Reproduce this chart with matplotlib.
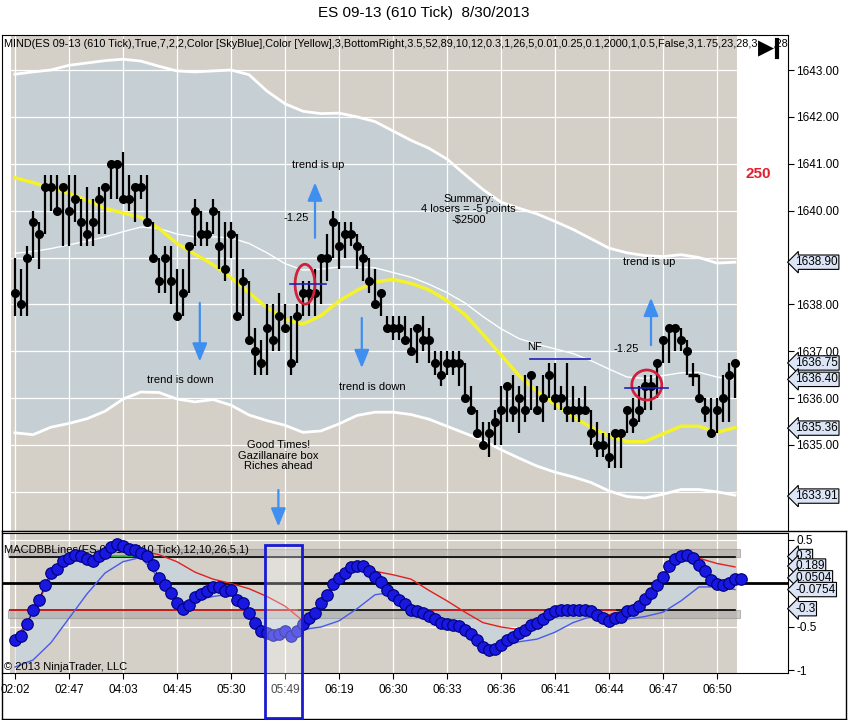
import numpy as np
import matplotlib.pyplot as plt
from matplotlib.patches import Ellipse, Rectangle
from matplotlib.lines import Line2D

plt.rcParams['font.family'] = ['Liberation Sans', 'DejaVu Sans']

# 610 tick bars: high / low / close
highs = [1639.0, 1638.75, 1639.25, 1640.0, 1639.75, 1640.75, 1640.75, 1640.75, 1640.5, 1640.75,
         1640.75, 1640.25, 1640.5, 1640.25, 1640.5, 1640.5, 1641.0, 1641.0, 1641.25, 1640.75,
         1640.5, 1640.75, 1640.75, 1639.75, 1639.0, 1639.25, 1639.25, 1638.75, 1638.75, 1639.25,
         1640.25, 1640.0, 1639.75, 1640.25, 1640.0, 1639.75, 1639.75, 1639.5, 1638.75, 1638.5,
         1637.5, 1637.25, 1638.0, 1638.0, 1638.25, 1638.0, 1637.75, 1638.0, 1638.5, 1638.5,
         1638.75, 1639.0, 1639.5, 1640.0, 1639.75, 1639.75, 1639.75, 1639.5, 1639.25, 1639.0,
         1638.75, 1638.25, 1637.75, 1637.75, 1637.75, 1637.75, 1637.5, 1637.5, 1637.75, 1637.5,
         1637.0, 1637.0, 1637.0, 1637.0, 1637.0, 1636.75, 1636.25, 1635.75, 1635.5, 1635.5,
         1635.75, 1636.25, 1636.25, 1636.5, 1636.25, 1636.5, 1636.5, 1636.25, 1636.5, 1636.75,
         1636.75, 1636.25, 1636.75, 1636.25, 1636.0, 1636.25, 1635.75, 1635.5, 1635.25, 1635.25,
         1635.25, 1635.25, 1635.75, 1636.0, 1636.25, 1636.5, 1636.5, 1636.75, 1637.25, 1637.5,
         1637.5, 1637.5, 1637.25, 1636.75, 1636.5, 1636.0, 1636.0, 1636.0, 1636.5, 1636.75,
         1636.75]
lows = [1637.75, 1637.75, 1637.75, 1639.0, 1638.75, 1639.5, 1640.0, 1640.0, 1639.25, 1639.25,
        1639.75, 1639.25, 1639.25, 1639.25, 1639.5, 1639.5, 1640.25, 1640.25, 1640.25, 1640.0,
        1639.75, 1640.25, 1639.75, 1639.0, 1638.25, 1638.25, 1638.0, 1637.75, 1637.75, 1638.25,
        1639.25, 1639.25, 1639.25, 1639.5, 1638.75, 1638.5, 1639.0, 1637.75, 1637.75, 1637.25,
        1636.5, 1636.5, 1636.5, 1637.0, 1637.0, 1637.5, 1636.5, 1636.75, 1637.75, 1637.75,
        1637.75, 1638.0, 1638.5, 1639.0, 1638.75, 1639.0, 1639.25, 1638.75, 1638.5, 1638.25,
        1638.0, 1637.75, 1637.5, 1637.25, 1637.25, 1637.25, 1637.0, 1636.75, 1637.0, 1636.75,
        1636.5, 1636.25, 1636.5, 1636.5, 1636.25, 1636.0, 1635.75, 1635.25, 1635.0, 1634.75,
        1635.0, 1635.0, 1635.5, 1635.5, 1635.25, 1635.5, 1635.75, 1635.75, 1635.5, 1636.0,
        1635.75, 1635.75, 1635.5, 1635.5, 1635.5, 1635.75, 1635.0, 1634.75, 1634.75, 1634.5,
        1634.5, 1634.5, 1635.25, 1635.25, 1635.5, 1635.75, 1635.75, 1636.0, 1636.75, 1636.75,
        1637.0, 1637.0, 1636.5, 1636.25, 1636.0, 1635.5, 1635.25, 1635.25, 1635.5, 1635.5,
        1636.0]
closes = [1638.25, 1638.0, 1639.0, 1639.75, 1639.5, 1640.5, 1640.5, 1640.0, 1640.5, 1640.0,
          1640.25, 1639.75, 1639.5, 1639.75, 1640.25, 1640.5, 1641.0, 1641.0, 1640.25, 1640.25,
          1640.5, 1640.5, 1639.75, 1639.0, 1638.5, 1639.0, 1638.5, 1637.75, 1638.25, 1639.25,
          1640.0, 1639.5, 1639.5, 1640.0, 1639.25, 1638.75, 1639.5, 1637.75, 1638.5, 1637.25,
          1637.0, 1636.75, 1637.5, 1637.25, 1637.75, 1637.5, 1636.75, 1637.75, 1638.25, 1638.25,
          1638.25, 1639.0, 1639.0, 1639.75, 1639.25, 1639.5, 1639.5, 1639.25, 1639.0, 1638.5,
          1638.0, 1638.25, 1637.5, 1637.5, 1637.5, 1637.25, 1637.0, 1637.5, 1637.25, 1637.25,
          1636.75, 1636.5, 1636.75, 1636.75, 1636.75, 1636.0, 1635.75, 1635.25, 1635.0, 1635.25,
          1635.5, 1635.75, 1636.25, 1635.75, 1636.0, 1635.75, 1636.5, 1635.75, 1636.0, 1636.5,
          1636.0, 1636.0, 1635.75, 1635.75, 1635.75, 1635.75, 1635.25, 1635.0, 1635.0, 1634.75,
          1635.25, 1635.25, 1635.75, 1635.5, 1635.75, 1636.25, 1636.25, 1636.75, 1637.25, 1637.5,
          1637.5, 1637.25, 1637.0, 1636.5, 1636.0, 1635.75, 1635.25, 1635.75, 1636.0, 1636.5,
          1636.75]
dash_bars = [113]

# indicator lines, sampled every 3 bars
step_x = np.arange(0, 121, 3)
yellow_ma = [1640.70, 1640.60, 1640.48, 1640.37, 1640.22, 1640.05, 1639.95, 1639.86, 1639.62, 1639.30,
             1639.07, 1638.85, 1638.57, 1638.25, 1637.93, 1637.68, 1637.58, 1637.76, 1638.07, 1638.30,
             1638.48, 1638.53, 1638.45, 1638.31, 1638.08, 1637.78, 1637.36, 1636.92, 1636.48, 1636.14,
             1635.87, 1635.60, 1635.38, 1635.19, 1635.07, 1635.07, 1635.24, 1635.40, 1635.40, 1635.27,
             1635.37]
white_ma = [1639.09, 1639.13, 1639.19, 1639.27, 1639.35, 1639.44, 1639.55, 1639.65, 1639.62, 1639.50,
            1639.44, 1639.44, 1639.42, 1639.30, 1639.10, 1638.87, 1638.73, 1638.75, 1638.80, 1638.80,
            1638.78, 1638.68, 1638.58, 1638.43, 1638.25, 1638.03, 1637.74, 1637.48, 1637.27, 1637.15,
            1637.05, 1636.95, 1636.80, 1636.62, 1636.45, 1636.42, 1636.48, 1636.54, 1636.55, 1636.45,
            1636.40]
band_upper = [1642.91, 1642.96, 1643.00, 1643.10, 1643.15, 1643.20, 1643.23, 1643.19, 1643.08, 1642.98,
              1642.96, 1642.98, 1643.00, 1642.90, 1642.55, 1642.28, 1642.12, 1642.07, 1642.08, 1642.00,
              1641.90, 1641.70, 1641.50, 1641.33, 1641.10, 1640.77, 1640.45, 1640.18, 1640.05, 1639.93,
              1639.77, 1639.60, 1639.40, 1639.20, 1639.10, 1639.04, 1639.02, 1639.06, 1639.00, 1638.88,
              1638.90]
band_lower = [1635.26, 1635.22, 1635.38, 1635.46, 1635.56, 1635.72, 1635.98, 1636.13, 1636.12, 1635.98,
              1635.92, 1635.97, 1635.85, 1635.64, 1635.52, 1635.42, 1635.27, 1635.30, 1635.45, 1635.63,
              1635.70, 1635.70, 1635.65, 1635.55, 1635.40, 1635.25, 1635.10, 1634.90, 1634.72, 1634.55,
              1634.42, 1634.32, 1634.20, 1634.02, 1633.90, 1633.87, 1633.95, 1634.05, 1634.05, 1634.00,
              1633.93]

# MACD dots, one per bar (plus the live bar)
macd = [-0.65, -0.60, -0.47, -0.31, -0.19, -0.02, 0.12, 0.17, 0.26, 0.29,
        0.33, 0.32, 0.28, 0.26, 0.31, 0.35, 0.42, 0.45, 0.43, 0.40,
        0.38, 0.35, 0.31, 0.21, 0.06, -0.02, -0.11, -0.22, -0.29, -0.25,
        -0.15, -0.12, -0.09, -0.04, -0.04, -0.09, -0.07, -0.19, -0.23, -0.34,
        -0.45, -0.55, -0.57, -0.59, -0.58, -0.55, -0.60, -0.55, -0.47, -0.40,
        -0.34, -0.23, -0.13, -0.01, 0.06, 0.12, 0.19, 0.20, 0.20, 0.14,
        0.08, 0.02, -0.07, -0.13, -0.19, -0.24, -0.30, -0.32, -0.34, -0.37,
        -0.41, -0.46, -0.47, -0.48, -0.49, -0.53, -0.58, -0.65, -0.73, -0.76,
        -0.75, -0.71, -0.65, -0.62, -0.57, -0.53, -0.48, -0.46, -0.41, -0.35,
        -0.32, -0.30, -0.30, -0.30, -0.30, -0.30, -0.32, -0.36, -0.40, -0.43,
        -0.40, -0.39, -0.32, -0.30, -0.26, -0.18, -0.11, -0.02, 0.08, 0.20,
        0.28, 0.32, 0.33, 0.29, 0.21, 0.14, 0.04, -0.01, -0.02, 0.01,
        0.05, 0.05]
macd_red = [-0.66, -0.33, 0.08, 0.26, 0.30, 0.34, 0.40, 0.38, 0.33, 0.25,
            0.13, 0.05, 0.00, -0.06, -0.15, -0.26, -0.43, -0.24, 0.04, 0.20,
            0.14, 0.10, 0.05, -0.08, -0.20, -0.33, -0.45, -0.50, -0.53, -0.46,
            -0.32, -0.30, -0.31, -0.36, -0.30, -0.19, 0.05, 0.32, 0.29, 0.23,
            0.19]
macd_blue = [-0.96, -0.88, -0.68, -0.40, -0.12, 0.12, 0.25, 0.30, 0.06, -0.22,
             -0.20, -0.15, -0.12, -0.33, -0.55, -0.58, -0.53, -0.50, -0.43, -0.29,
             -0.13, -0.10, -0.29, -0.38, -0.47, -0.54, -0.71, -0.73, -0.67, -0.64,
             -0.56, -0.45, -0.38, -0.39, -0.41, -0.38, -0.33, -0.20, -0.04, -0.04,
             -0.07]

time_labels = ['02:02', '02:47', '04:03', '04:45', '05:30', '05:49', '06:19',
               '06:30', '06:33', '06:36', '06:41', '06:44', '06:47', '06:50']
time_ticks = np.arange(0, 9 * len(time_labels), 9)

price_ticks = [1635, 1636, 1637, 1638, 1640, 1641, 1642, 1643]
price_boxes = [1638.90, 1636.75, 1636.40, 1635.36, 1633.91]
macd_box_text = ['0.3', '0.189', '0.0504', '-0.0754', '-0.3']
macd_box_pos = [0.31, 0.20, 0.065, -0.07, -0.29]

TAN = '#d4d0c8'
BAND = '#c6cfd3'
W, H = 848, 720


def fx(px):
    return px / W


def fy(py):
    return 1 - py / H


def arrow(ax, x, y0, y1):
    ax.annotate('', xy=(x, y1), xytext=(x, y0),
                arrowprops=dict(arrowstyle='-|>,head_width=0.45,head_length=1.1',
                                color='#3f8ff0', lw=1.6, mutation_scale=10,
                                shrinkA=0, shrinkB=0), zorder=6)


def box_label(ax, y, txt):
    ax.text(1.009, y, txt, transform=ax.get_yaxis_transform(), ha='left',
            va='center', fontsize=8.5, clip_on=False, zorder=20,
            bbox=dict(boxstyle='larrow,pad=0.1', fc='#dbe5f6', ec='black', lw=0.8))


fig = plt.figure(figsize=(W / 100, H / 100), dpi=100)
fig.patch.set_facecolor('white')

xlim = ((2 - 15) / 6, (788 - 15) / 6)

# ---------- price panel ----------
ax = fig.add_axes([fx(2), fy(531), fx(786), 496 / H])
ax.set_facecolor('white')
ax.set_xlim(*xlim)
ax.set_ylim(1633.165, 1643.747)
ax.axvspan(-0.67, 120.33, color=TAN, zorder=0, lw=0)
ax.fill_between(step_x, band_lower, band_upper, color=BAND, zorder=1, lw=0)
for p in range(1634, 1644):
    ax.axhline(p, color='white', lw=0.9, zorder=1.5)
for t in time_ticks:
    ax.axvline(t, color='white', lw=0.9, zorder=1.5)
ax.plot(step_x, band_upper, color='white', lw=2.0, zorder=2)
ax.plot(step_x, band_lower, color='white', lw=2.0, zorder=2)
ax.plot(step_x, white_ma, color='white', lw=1.0, zorder=2)
ax.plot(step_x, yellow_ma, color='#f4f22a', lw=2.5, zorder=3)

bx = np.arange(len(closes))
ax.vlines(bx, lows, highs, color='black', lw=1.6, zorder=4)
dot_x = [i for i in bx if i not in dash_bars]
ax.plot(dot_x, [closes[i] for i in dot_x], 'o', color='black', ms=5.5, zorder=5)
ax.plot(dash_bars, [closes[i] for i in dash_bars], '_', color='black', ms=7,
        mew=2.5, zorder=5)

# trade markers
ax.add_patch(Ellipse((48.33, 1638.43), 3.3, 0.85, fill=False, ec='#d0203c', lw=2, zorder=6))
ax.add_patch(Ellipse((105.3, 1636.28), 5.0, 0.64, fill=False, ec='#d0203c', lw=2, zorder=6))
ax.plot([45.8, 51.9], [1638.43, 1638.43], color='#2020b8', lw=1.2, zorder=6)
ax.plot([101.7, 108.9], [1636.21, 1636.21], color='#2020b8', lw=1.2, zorder=6)
ax.plot([85.8, 95.8], [1636.84, 1636.84], color='#2020b8', lw=1.2, zorder=6)

arrow(ax, 50.0, 1639.42, 1640.60)
arrow(ax, 106.0, 1637.13, 1638.14)
arrow(ax, 30.8, 1638.03, 1636.78)
arrow(ax, 57.8, 1637.71, 1636.64)
arrow(ax, 43.9, 1634.04, 1633.26)

fs = 8
ax.text(50.5, 1640.97, 'trend is up', ha='center', va='center', fontsize=fs, zorder=7)
ax.text(46.8, 1639.84, '-1.25', ha='center', va='center', fontsize=fs, zorder=7)
ax.text(75.6, 1640.03, 'Summary:\n4 losers = -5 points\n-$2500', ha='center',
        va='center', fontsize=fs, linespacing=1.05, zorder=7)
ax.text(105.7, 1638.91, 'trend is up', ha='center', va='center', fontsize=fs, zorder=7)
ax.text(101.8, 1637.04, '-1.25', ha='center', va='center', fontsize=fs, zorder=7)
ax.text(86.5, 1637.08, 'NF', ha='center', va='center', fontsize=fs, zorder=7)
ax.text(27.6, 1636.39, 'trend is down', ha='center', va='center', fontsize=fs, zorder=7)
ax.text(59.6, 1636.23, 'trend is down', ha='center', va='center', fontsize=fs, zorder=7)
ax.text(43.9, 1634.77, 'Good Times!\nGazillanaire box\nRiches ahead', ha='center',
        va='center', fontsize=fs, linespacing=1.05, zorder=7)
ax.text(123.8, 1640.78, '250', ha='center', va='center', fontsize=11,
        fontweight='bold', color='#e0202c', zorder=7)
ax.text(0.002, 0.992, 'MIND(ES 09-13 (610 Tick),True,7,2,2,Color [SkyBlue],Color [Yellow],3,'
        'BottomRight,3.5,52,89,10,12,0.3,1,26,5,0.01,0.25,0.1,2000,1,0.5,False,3,1.75,23,28,33,2,28',
        transform=ax.transAxes, ha='left', va='top', fontsize=7.8, zorder=7, clip_on=True)

ax.yaxis.tick_right()
ax.set_yticks(price_ticks)
ax.set_yticklabels([f'{p:.2f}' for p in price_ticks])
ax.tick_params(axis='y', direction='out', length=4, labelsize=8.5, pad=2)
ax.set_xticks([])
for v in price_boxes:
    box_label(ax, v, f'{v:.2f}')

# ---------- MACD panel ----------
ax2 = fig.add_axes([fx(2), fy(673), fx(786), 140 / H])
ax2.set_facecolor('white')
ax2.set_xlim(*xlim)
ax2.set_ylim(-1.029, 0.580)
ax2.axvspan(-0.83, 120.33, color=TAN, zorder=0, lw=0)
for t in time_ticks:
    ax2.axvline(t, color='white', lw=0.9, zorder=1)
for lv in (0.5, -0.5):
    ax2.axhline(lv, color='white', lw=0.9, zorder=1)
ax2.fill_between(step_x, macd_blue, macd_red, color='#c9d3d8', zorder=1.2, lw=0)

ax2.add_patch(Rectangle((-1.17, 0.30), 122, 0.10, fc='#a8a6a2', ec='#8c8c8c',
                        alpha=0.55, lw=0.8, zorder=1.3))
ax2.add_patch(Rectangle((-1.17, -0.40), 122, 0.10, fc='#a8a6a2', ec='#8c8c8c',
                        alpha=0.55, lw=0.8, zorder=1.3))
ax2.plot([-0.83, 120], [0.3, 0.3], color='black', lw=1.2, zorder=2)
ax2.plot([16, 21], [0.31, 0.31], color='#30c040', lw=1.2, zorder=2.1)
ax2.plot([-0.83, 120], [-0.3, -0.3], color='black', lw=1.2, zorder=2)
for a, b in ((-0.83, 47), (67, 100)):
    ax2.plot([a, b], [-0.3, -0.3], color='#e02020', lw=1.2, zorder=2.1)
ax2.axhline(0, color='black', lw=2.0, zorder=2)

ax2.plot(step_x, macd_blue, color='#4a5ae8', lw=1.0, zorder=3)
ax2.plot(step_x, macd_red, color='#e02020', lw=1.0, zorder=3)

ax2.text(0.002, 0.88, 'MACDBBLines(ES 09-13 (610 Tick),12,10,26,5,1)', transform=ax2.transAxes,
         ha='left', va='center', fontsize=8, zorder=3.5)
ax2.text(0.002, 0.045, '\u00a9 2013 NinjaTrader, LLC', transform=ax2.transAxes,
         ha='left', va='center', fontsize=8, zorder=3.5)

mx = np.arange(len(macd))
ax2.plot(mx, macd, color='#101060', lw=0.8, zorder=4)
ax2.plot(mx, macd, 'o', color='#1818e0', mec='#00007a', mew=0.8, ms=8.3, zorder=5)

ax2.yaxis.tick_right()
ax2.set_yticks([0.5, -0.5, -1])
ax2.set_yticklabels(['0.5', '-0.5', '-1'])
ax2.set_xticks(time_ticks)
ax2.set_xticklabels(time_labels)
ax2.tick_params(axis='y', direction='out', length=4, labelsize=8.5, pad=2)
ax2.tick_params(axis='x', direction='out', length=4, labelsize=8.5, pad=4)
for txt, pos in zip(macd_box_text, macd_box_pos):
    box_label(ax2, pos, txt)

# ---------- figure decorations ----------
fig.text(fx(424), fy(13), 'ES 09-13 (610 Tick)  8/30/2013', ha='center', va='center',
         fontsize=11)
fig.text(fx(766), fy(48), '\u25b6', ha='center', va='center', fontsize=15,
         family=['DejaVu Sans'], zorder=8,
         bbox=dict(boxstyle='square,pad=0.0', fc='white', ec='none'))
fig.add_artist(Line2D([fx(777), fx(777)], [fy(40), fy(57)], lw=3, color='black',
                      transform=fig.transFigure))
fig.add_artist(Rectangle((fx(265), fy(718)), fx(302) - fx(265), fy(545) - fy(718),
                         transform=fig.transFigure, fc=(1, 1, 1, 0.3), ec='#1a1ad0',
                         lw=2, zorder=10))
for seg in (((2, 531), (846, 531)), ((846, 531), (846, 719)), ((2, 719), (846, 719)),
            ((2, 531), (2, 719))):
    (x0, y0), (x1, y1) = seg
    fig.add_artist(Line2D([fx(x0), fx(x1)], [fy(y0), fy(y1)], lw=1.0, color='black',
                          transform=fig.transFigure))

fig.savefig('out.png', dpi=100)
